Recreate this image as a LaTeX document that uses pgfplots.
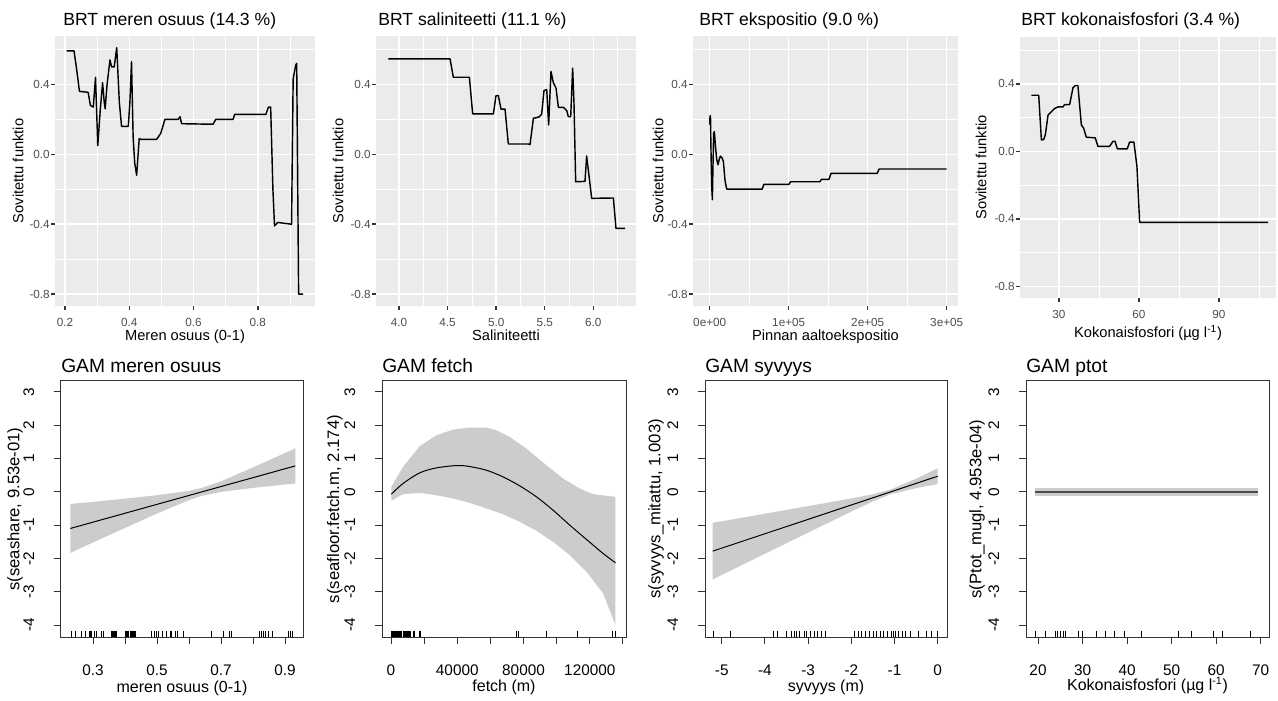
\documentclass[border=0pt]{standalone}
\usepackage{pgfplots}
\pgfplotsset{compat=1.18}
\usepackage{fontspec}
\setmainfont{Liberation Sans}
\definecolor{ggbg}{HTML}{EBEBEB}
\definecolor{ggtick}{HTML}{333333}
\definecolor{ggtext}{HTML}{4D4D4D}
\definecolor{bandc}{HTML}{CCCCCC}
\pgfplotsset{
 ggp/.style={
  scale only axis, anchor=south west, clip=false,
  ymin=-0.868, ymax=0.677,
  ytick={-0.8,-0.4,0,0.4}, yticklabels={-0.8,-0.4,0.0,0.4},
  minor ytick={-0.6,-0.2,0.2,0.6},
  grid=both,
  major grid style={draw=white, line width=1.07pt},
  minor grid style={draw=white, line width=0.53pt},
  axis background/.style={fill=ggbg},
  axis line style={draw=none},
  tick align=outside, tick pos=left,
  major tick length=2.75pt, minor tick length=0pt,
  major tick style={draw=ggtick, line width=1.07pt},
  minor tick style={draw=none},
  tick label style={font=\fontsize{8.8}{10.5}\selectfont, text=ggtext},
  yticklabel style={inner xsep=1pt},
  xticklabel style={yshift=-3pt},
  /pgf/number format/assume math mode=true,
  scaled ticks=false,
  xlabel style={font=\fontsize{11}{13}\selectfont, anchor=base},
  ylabel style={font=\fontsize{11}{13}\selectfont, anchor=center},
  ylabel={Sovitettu funktio},
  every axis title/.style={font=\fontsize{13.2}{15}\selectfont, at={(axis description cs:0,1)}, anchor=base west, inner sep=0pt, yshift=7.5pt},
 },
 ggline/.style={draw=black, line width=1.07pt, line join=round, no markers},
 rp/.style={
  scale only axis, anchor=south west,
  ymin=-4.36, ymax=3.33, ytick={-4,-3,-2,-1,0,1,2,3},
  axis line style={draw=black!80, line width=0.75pt},
  tick align=outside, tick pos=left,
  major tick length=5.6pt,
  major tick style={draw=black!80, line width=0.75pt},
  yticklabel style={rotate=90, anchor=south},
  xticklabel shift=11.5pt,
  yticklabel shift=11pt,
  tick label style={font=\fontsize{11.5}{13}\selectfont},
  /pgf/number format/assume math mode=true,
  scaled ticks=false,
  xlabel style={font=\fontsize{12}{14}\selectfont, anchor=center},
  ylabel style={font=\fontsize{12.5}{14}\selectfont, anchor=center},
  every axis title/.style={font=\fontsize{14.4}{16}\selectfont, at={(axis description cs:0,1)}, anchor=base west, inner sep=0pt, yshift=6.5pt},
 },
 rug/.style={only marks, mark=|, mark size=2.35pt, mark options={line width=0.6pt, draw=black}},
 band/.style={fill=bandc, draw=none, no markers},
 gline/.style={draw=black, line width=0.75pt, no markers},
}
\begin{document}
\begin{tikzpicture}
\path[use as bounding box] (0pt,0pt) rectangle (958.5pt,525pt);
% ---------------- BRT 1
\begin{axis}[ggp, at={(41.25pt,295.5pt)}, width=195pt, height=202.5pt,
  xmin=0.1689, xmax=0.978,
  xtick={0.2,0.4,0.6,0.8}, xticklabels={0.2,0.4,0.6,0.8},
  minor xtick={0.3,0.5,0.7,0.9},
  title={BRT meren osuus (14.3 \%)}, title style={xshift=6pt},
  xlabel={Meren osuus (0-1)},
  xlabel style={at={(axis description cs:0.5,-0.126)}},
  ylabel style={at={(axis description cs:-0.142,0.5)}}]
\addplot[ggline] coordinates {(0.205,0.592)(0.228,0.592)(0.236,0.49)(0.245,0.36)(0.272,0.355)(0.279,0.28)(0.288,0.27)(0.295,0.44)(0.302,0.05)(0.31,0.26)(0.317,0.41)(0.322,0.3)(0.325,0.26)(0.331,0.4)(0.34,0.54)(0.345,0.5)(0.353,0.5)(0.361,0.61)(0.369,0.3)(0.376,0.16)(0.397,0.16)(0.402,0.3)(0.407,0.53)(0.412,0.1)(0.417,-0.05)(0.423,-0.12)(0.431,0.09)(0.436,0.085)(0.485,0.085)(0.498,0.12)(0.511,0.2)(0.552,0.2)(0.558,0.215)(0.563,0.175)(0.661,0.172)(0.669,0.2)(0.723,0.2)(0.728,0.228)(0.825,0.228)(0.833,0.27)(0.84,0.27)(0.847,-0.2)(0.852,-0.41)(0.862,-0.39)(0.905,-0.4)(0.91,0.43)(0.918,0.51)(0.921,0.52)(0.927,-0.8)(0.941,-0.8)};
\end{axis}
% ---------------- BRT 2
\begin{axis}[ggp, at={(282pt,295.5pt)}, width=195pt, height=202.5pt,
  xmin=3.763, xmax=6.439,
  xtick={4,4.5,5,5.5,6}, xticklabels={4.0,4.5,5.0,5.5,6.0},
  minor xtick={4.25,4.75,5.25,5.75,6.25},
  title={BRT saliniteetti (11.1 \%)}, title style={xshift=1.5pt},
  xlabel={Saliniteetti},
  xlabel style={at={(axis description cs:0.5,-0.126)}},
  ylabel style={at={(axis description cs:-0.146,0.5)}}]
\addplot[ggline] coordinates {(3.890,0.546)(4.525,0.546)(4.559,0.441)(4.724,0.441)(4.758,0.231)(4.971,0.231)(4.998,0.336)(5.022,0.336)(5.050,0.258)(5.091,0.258)(5.125,0.059)(5.331,0.059)(5.348,0.055)(5.383,0.206)(5.417,0.21)(5.444,0.215)(5.468,0.23)(5.492,0.365)(5.520,0.37)(5.540,0.168)(5.564,0.474)(5.588,0.41)(5.616,0.378)(5.640,0.269)(5.691,0.269)(5.726,0.25)(5.743,0.215)(5.767,0.215)(5.787,0.493)(5.801,0.29)(5.818,-0.157)(5.914,-0.155)(5.931,-0.01)(5.983,-0.252)(6.206,-0.25)(6.233,-0.424)(6.326,-0.424)};
\end{axis}
% ---------------- BRT 3
\begin{axis}[ggp, at={(519.75pt,295.5pt)}, width=198.75pt, height=202.5pt,
  xmin=-21140, xmax=314300,
  xtick={0,100000,200000,300000}, xticklabels={0e+00,1e+05,2e+05,3e+05},
  minor xtick={50000,150000,250000},
  title={BRT ekspositio (9.0 \%)}, title style={xshift=4.5pt},
  xlabel={Pinnan aaltoekspositio},
  xlabel style={at={(axis description cs:0.5,-0.126)}},
  ylabel style={at={(axis description cs:-0.132,0.5)}}]
\addplot[ggline] coordinates {(0,0.17)(400,0.22)(1000,0.22)(1500,0.05)(2500,-0.18)(3400,-0.26)(4000,-0.1)(5000,0.12)(5900,0.13)(7200,0.05)(8900,-0.03)(10500,-0.06)(12000,-0.03)(13500,-0.01)(15500,-0.02)(17300,-0.04)(19400,-0.15)(21500,-0.199)(66500,-0.199)(68500,-0.172)(100300,-0.172)(102300,-0.157)(139500,-0.157)(141500,-0.143)(151000,-0.143)(153500,-0.109)(212000,-0.109)(214500,-0.084)(300000,-0.084)};
\end{axis}
% ---------------- BRT 4
\begin{axis}[ggp, at={(765pt,301.5pt)}, width=192pt, height=195.75pt,
  xmin=15.38, xmax=111.4,
  xtick={30,60,90}, xticklabels={30,60,90},
  minor xtick={45,75,105},
  title={BRT kokonaisfosfori (3.4 \%)}, title style={xshift=0.75pt, yshift=1.5pt},
  xlabel={Kokonaisfosfori (µg l\textsuperscript{-1})},
  xlabel style={at={(axis description cs:0.5,-0.152)}},
  ylabel style={at={(axis description cs:-0.152,0.5)}}]
\addplot[ggline] coordinates {(19.6,0.332)(22.4,0.332)(23.4,0.068)(24.25,0.07)(24.9,0.1)(25.9,0.215)(27.1,0.234)(28.4,0.254)(29.6,0.263)(31.5,0.263)(32.1,0.277)(34.0,0.277)(35.25,0.377)(36.2,0.39)(37.1,0.39)(38.4,0.156)(39.25,0.137)(40.25,0.084)(43.6,0.08)(44.6,0.03)(49.0,0.03)(50.25,0.06)(51.0,0.06)(51.9,0.015)(55.6,0.015)(56.5,0.055)(58.1,0.055)(59.25,-0.09)(60.25,-0.42)(108.4,-0.42)};
\end{axis}
% ---------------- GAM 1
\begin{axis}[rp, at={(45.75pt,47.25pt)}, width=181.5pt, height=192pt,
  xmin=0.2, xmax=0.956,
  xtick={0.3,0.4,0.5,0.6,0.7,0.8,0.9}, xticklabels={0.3,,0.5,,0.7,,0.9},
  title={GAM meren osuus},
  xlabel={meren osuus (0-1)}, ylabel={s(seashare, 9.53e-01)},
  xlabel style={at={(axis description cs:0.5,-0.199)}},
  ylabel style={at={(axis description cs:-0.19,0.5)}}]
\addplot[band] coordinates {(0.229,-0.365)(0.3,-0.299)(0.4,-0.203)(0.5,-0.100)(0.6,0.031)(0.64,0.119)(0.7,0.319)(0.8,0.734)(0.9,1.168)(0.932,1.309)(0.932,0.251)(0.9,0.220)(0.8,0.120)(0.7,-0.001)(0.64,-0.121)(0.6,-0.247)(0.5,-0.650)(0.4,-1.083)(0.3,-1.521)(0.229,-1.835)};
\addplot[gline] coordinates {(0.229,-1.1)(0.932,0.78)};
\addplot[rug] coordinates {(0.231,-4.265)(0.246,-4.265)(0.263,-4.265)(0.277,-4.265)(0.288,-4.265)(0.293,-4.265)(0.296,-4.265)(0.304,-4.265)(0.312,-4.265)(0.325,-4.265)(0.332,-4.265)(0.358,-4.265)(0.361,-4.265)(0.364,-4.265)(0.367,-4.265)(0.369,-4.265)(0.372,-4.265)(0.374,-4.265)(0.402,-4.265)(0.405,-4.265)(0.408,-4.265)(0.412,-4.265)(0.416,-4.265)(0.421,-4.265)(0.424,-4.265)(0.426,-4.265)(0.429,-4.265)(0.431,-4.265)(0.483,-4.265)(0.491,-4.265)(0.499,-4.265)(0.504,-4.265)(0.517,-4.265)(0.530,-4.265)(0.541,-4.265)(0.546,-4.265)(0.556,-4.265)(0.565,-4.265)(0.582,-4.265)(0.671,-4.265)(0.707,-4.265)(0.725,-4.265)(0.731,-4.265)(0.819,-4.265)(0.825,-4.265)(0.832,-4.265)(0.840,-4.265)(0.848,-4.265)(0.860,-4.265)(0.910,-4.265)(0.916,-4.265)(0.923,-4.265)};
\end{axis}
% ---------------- GAM 2
\begin{axis}[rp, at={(286.5pt,47.25pt)}, width=183pt, height=192pt,
  xmin=-5432, xmax=141846,
  xtick={0,20000,40000,60000,80000,100000,120000,140000}, xticklabels={0,,40000,,80000,,120000,},
  title={GAM fetch},
  xlabel={fetch (m)}, ylabel={s(seafloor.fetch.m, 2.174)},
  xlabel style={at={(axis description cs:0.5,-0.195)}},
  ylabel style={at={(axis description cs:-0.193,0.5)}}]
\addplot[band] coordinates {(200,0.15)(7250,0.75)(17300,1.37)(27400,1.7)(37400,1.87)(47500,1.93)(57600,1.93)(63600,1.85)(71700,1.65)(81700,1.3)(93800,0.8)(103900,0.4)(113900,0.1)(122000,-0.07)(135500,-0.15)(135500,-4.0)(128000,-3.05)(118000,-2.4)(107900,-1.9)(97800,-1.5)(87800,-1.17)(77700,-0.9)(67600,-0.67)(57600,-0.5)(47500,-0.33)(37400,-0.2)(27400,-0.1)(17300,-0.03)(7250,-0.07)(200,-0.27)};
\addplot[gline, smooth] coordinates {(200,-0.07)(7250,0.25)(17300,0.57)(27400,0.72)(39900,0.79)(47500,0.76)(57600,0.65)(67600,0.45)(77700,0.18)(87800,-0.15)(97800,-0.55)(107900,-1.0)(118000,-1.43)(128000,-1.85)(135500,-2.13)};
\addplot[rug] coordinates {(300,-4.265)(800,-4.265)(1300,-4.265)(1800,-4.265)(2300,-4.265)(2800,-4.265)(3500,-4.265)(4000,-4.265)(4500,-4.265)(5000,-4.265)(5500,-4.265)(6000,-4.265)(6500,-4.265)(7200,-4.265)(7700,-4.265)(8200,-4.265)(8700,-4.265)(9200,-4.265)(9700,-4.265)(10200,-4.265)(10700,-4.265)(11200,-4.265)(11600,-4.265)(13500,-4.265)(14100,-4.265)(16900,-4.265)(17900,-4.265)(75900,-4.265)(76900,-4.265)(94000,-4.265)(112500,-4.265)(133600,-4.265)(135600,-4.265)};
\end{axis}
% ---------------- GAM 3
\begin{axis}[rp, at={(528.75pt,47.25pt)}, width=181.5pt, height=192pt,
  xmin=-5.387, xmax=0.215,
  xtick={-5,-4,-3,-2,-1,0},
  title={GAM syvyys},
  xlabel={syvyys (m)}, ylabel={s(syvyys\_mitattu, 1.003)},
  xlabel style={at={(axis description cs:0.5,-0.195)}},
  ylabel style={at={(axis description cs:-0.202,0.5)}}]
\addplot[band] coordinates {(-5.21,-0.931)(-5,-0.883)(-4.5,-0.770)(-4,-0.656)(-3.5,-0.542)(-3,-0.428)(-2.5,-0.313)(-2,-0.196)(-1.5,-0.070)(-1.1,0.065)(-0.5,0.396)(0,0.707)(0,0.233)(-0.5,0.112)(-1.1,-0.075)(-1.5,-0.286)(-2,-0.592)(-2.5,-0.907)(-3,-1.224)(-3.5,-1.542)(-4,-1.860)(-4.5,-2.178)(-5,-2.497)(-5.21,-2.631)};
\addplot[gline] coordinates {(-5.21,-1.781)(0,0.47)};
\addplot[rug] coordinates {(-5.20,-4.265)(-4.81,-4.265)(-3.80,-4.265)(-3.72,-4.265)(-3.50,-4.265)(-3.39,-4.265)(-3.31,-4.265)(-3.26,-4.265)(-3.20,-4.265)(-3.09,-4.265)(-3.03,-4.265)(-2.95,-4.265)(-2.86,-4.265)(-2.78,-4.265)(-2.69,-4.265)(-2.61,-4.265)(-1.93,-4.265)(-1.84,-4.265)(-1.76,-4.265)(-1.67,-4.265)(-1.59,-4.265)(-1.50,-4.265)(-1.42,-4.265)(-1.33,-4.265)(-1.25,-4.265)(-1.16,-4.265)(-1.08,-4.265)(-1.03,-4.265)(-0.99,-4.265)(-0.91,-4.265)(-0.82,-4.265)(-0.74,-4.265)(-0.63,-4.265)(-0.44,-4.265)(-0.27,-4.265)(-0.14,-4.265)(-0.01,-4.265)};
\end{axis}
% ---------------- GAM 4
\begin{axis}[rp, at={(769.5pt,47.25pt)}, width=182.25pt, height=192pt,
  xmin=17.3, xmax=71.9,
  xtick={20,30,40,50,60,70},
  title={GAM ptot},
  xlabel={Kokonaisfosfori (µg l\textsuperscript{-1})}, ylabel={s(Ptot\_mugl, 4.953e-04)},
  xlabel style={at={(axis description cs:0.5,-0.19)}},
  ylabel style={at={(axis description cs:-0.2016,0.5)}}]
\addplot[band] coordinates {(19.3,0.12)(69.5,0.12)(69.5,-0.12)(19.3,-0.12)};
\addplot[draw=black!70, line width=1.5pt, no markers] coordinates {(19.3,0)(69.5,0)};
\addplot[rug] coordinates {(19.4,-4.265)(21.7,-4.265)(23.8,-4.265)(24.4,-4.265)(25.0,-4.265)(25.7,-4.265)(26.2,-4.265)(29.1,-4.265)(30.0,-4.265)(33.1,-4.265)(35.2,-4.265)(37.2,-4.265)(39.5,-4.265)(43.2,-4.265)(51.6,-4.265)(54.5,-4.265)(59.3,-4.265)(61.4,-4.265)(67.8,-4.265)};
\end{axis}
\end{tikzpicture}
\end{document}
